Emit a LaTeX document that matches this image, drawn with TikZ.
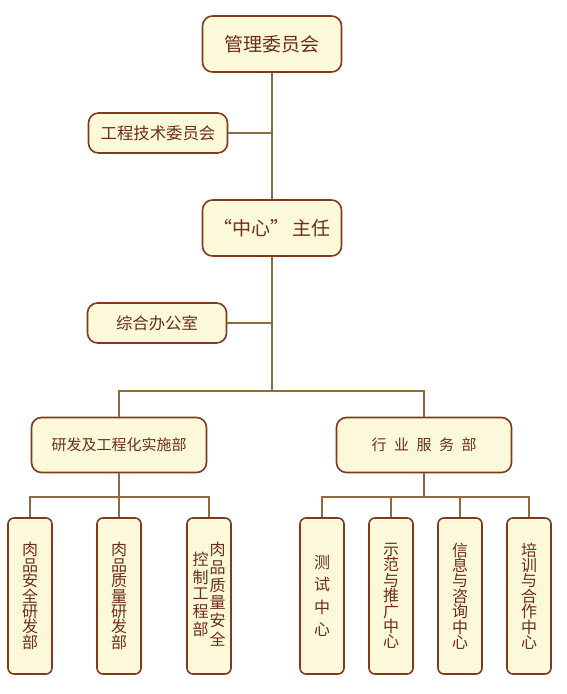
\documentclass[tikz,border=0pt]{standalone}
\usepackage{fontspec}
\setmainfont{Noto Sans CJK SC}
\usetikzlibrary{positioning}
\definecolor{boxfill}{HTML}{FCF8DA}
\definecolor{boxline}{HTML}{7F3A1F}
\definecolor{linkc}{HTML}{8F6B3C}
\definecolor{txt}{HTML}{6E2E18}
\newcommand{\gp}{\hspace{7.5pt}}

\begin{document}
\begin{tikzpicture}[
  x=1pt,y=-1pt,
  box/.style={draw=boxline,fill=boxfill,line width=1.6pt,rounded corners=10pt,
              text=txt,inner sep=0pt,align=center},
  big/.style={box,minimum width=139pt,minimum height=56pt,font=\fontsize{19}{22}\selectfont},
  mid/.style={box,minimum width=139pt,minimum height=40pt,font=\fontsize{16.4}{20}\selectfont},
  dept/.style={box,minimum width=175pt,minimum height=55pt,font=\fontsize{15}{18}\selectfont},
  unit/.style={box,rounded corners=6pt,minimum width=44pt,minimum height=156pt,
               font=\fontsize{16}{15.4}\selectfont},
  link/.style={draw=linkc,line width=1.6pt}
]
\useasboundingbox (0,0) rectangle (566,694);
% ---- top of the chart ----
\node[big] (gl) at (272,44)  {管理委员会};
\node[mid] (js) at (158,133) {工程技术委员会};
\node[big] (zr) at (272,228) {“中心”\hspace{3pt}主任};
\node[mid] (zh) at (157,323) {综合办公室};
% ---- the two departments ----
\node[dept] (yf) at (119,445) {研发及工程化实施部};
\node[dept] (hy) at (424,445) {行\gp 业\gp 服\gp 务\gp 部};
% ---- units under them ----
\node[unit] (s1) at (30,596)  {肉\\品\\安\\全\\研\\发\\部};
\node[unit] (s2) at (119,596) {肉\\品\\质\\量\\研\\发\\部};
\node[unit] (s3) at (209,596) {\begin{tabular}{@{}c@{}}控\\制\\工\\程\\部\end{tabular}\hspace{1pt}%
  \begin{tabular}{@{}c@{}}肉\\品\\质\\量\\安\\全\end{tabular}};
\node[unit] (r1) at (322,596) {测\\[7pt]试\\[7pt]中\\[7pt]心};
\node[unit] (r2) at (391,596) {示\\范\\与\\推\\广\\中\\心};
\node[unit] (r3) at (460,596) {信\\息\\与\\咨\\询\\中\\心};
\node[unit] (r4) at (529,596) {培\\训\\与\\合\\作\\中\\心};
\coordinate (b1) at (272,391);
\coordinate (b2) at (119,497);
\coordinate (b3) at (424,497);
% ---- connectors ----
\draw[link] (gl) -- (zr);
\draw[link] (js) -- (js -| gl);
\draw[link] (zr) -- (b1);
\draw[link] (zh) -- (zh -| zr);
\draw[link] (yf) |- (b1) -| (hy);
\draw[link] (yf) -- (s2);
\draw[link] (s1) |- (b2) -| (s3);
\draw[link] (hy) -- (b3);
\draw[link] (r1) |- (b3) -| (r4);
\draw[link] (r2) -- (r2 |- b3);
\draw[link] (r3) -- (r3 |- b3);
\end{tikzpicture}
\end{document}
